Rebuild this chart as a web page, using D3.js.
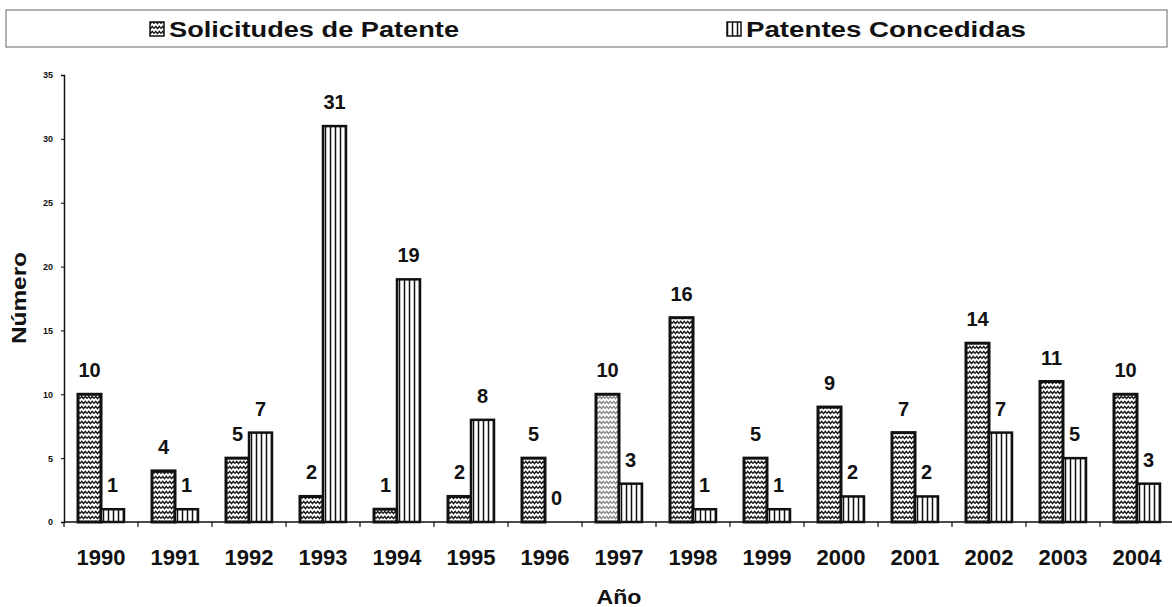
<!DOCTYPE html>
<html>
<head>
<meta charset="utf-8">
<script src="https://cdnjs.cloudflare.com/ajax/libs/d3/7.8.5/d3.min.js"></script>
<style>
  body { margin: 0; background: #fff; }
  svg { font-family: Arial, "Liberation Sans", sans-serif; }
</style>
</head>
<body>
<div id="chart"></div>
<script>
// data
var years = ["1990", "1991", "1992", "1993", "1994", "1995", "1996", "1997",
             "1998", "1999", "2000", "2001", "2002", "2003", "2004"];
var solicitudes = [10, 4, 5, 2, 1, 2, 5, 10, 16, 5, 9, 7, 14, 11, 10];
var concedidas  = [1, 1, 7, 31, 19, 8, 0, 3, 1, 1, 2, 2, 7, 5, 3];
var yTicks = [0, 5, 10, 15, 20, 25, 30, 35];
var seriesNames = ["Solicitudes de Patente", "Patentes Concedidas"];

var width = 1172, height = 607;
var margin = {top: 75, right: 0, bottom: 85, left: 64};

var svg = d3.select("#chart").append("svg")
    .attr("width", width)
    .attr("height", height);

// fill patterns: zigzag for applications, vertical stripes for grants
var defs = svg.append("defs");
function wavePattern(id, color) {
    var p = defs.append("pattern")
        .attr("id", id)
        .attr("patternUnits", "userSpaceOnUse")
        .attr("width", 7).attr("height", 5);
    p.append("rect").attr("width", 7).attr("height", 5).attr("fill", "#fff");
    p.append("path")
        .attr("d", "M0,3.6 L1.75,1.4 L3.5,3.6 L5.25,1.4 L7,3.6")
        .attr("fill", "none")
        .attr("stroke", color)
        .attr("stroke-width", 1.4);
}
wavePattern("wave", "#111");
wavePattern("waveGrey", "#888");

var stripes = defs.append("pattern")
    .attr("id", "stripes")
    .attr("patternUnits", "userSpaceOnUse")
    .attr("width", 5).attr("height", 10);
stripes.append("rect").attr("width", 5).attr("height", 10).attr("fill", "#fff");
stripes.append("line")
    .attr("x1", 2.5).attr("x2", 2.5).attr("y1", 0).attr("y2", 10)
    .attr("stroke", "#111").attr("stroke-width", 1.5);

// legend box
svg.append("rect")
    .attr("x", 6).attr("y", 10)
    .attr("width", 1161).attr("height", 37)
    .attr("fill", "#fff").attr("stroke", "#666").attr("stroke-width", 1);

var legendPos = [{x: 150, fill: "url(#wave)", len: 290}, {x: 727, fill: "url(#stripes)", len: 280}];
legendPos.forEach(function(l, i) {
    svg.append("rect")
        .attr("x", l.x).attr("y", 22)
        .attr("width", 14).attr("height", 14)
        .attr("fill", l.fill)
        .attr("stroke", "#111").attr("stroke-width", 1.5);
    svg.append("text")
        .attr("x", l.x + 19).attr("y", 37)
        .attr("font-size", "22px").attr("font-weight", "bold")
        .attr("textLength", l.len).attr("lengthAdjust", "spacingAndGlyphs")
        .attr("fill", "#111")
        .text(seriesNames[i]);
});

var x = d3.scaleBand()
    .domain(years)
    .range([margin.left, margin.left + 15 * 74]);

var y = d3.scaleLinear()
    .domain([0, 35])
    .range([height - margin.bottom, margin.top]);

var g = svg.append("g");

// y axis
var yAxis = g.append("g")
    .attr("transform", "translate(" + margin.left + ",0)")
    .call(d3.axisLeft(y).tickValues(yTicks).tickSize(3).tickPadding(8));
yAxis.select(".domain").attr("stroke", "#111").attr("stroke-width", 1.5);
yAxis.selectAll("text")
    .attr("font-size", "9px").attr("font-weight", "bold")
    .attr("font-family", "Arial, 'Liberation Sans', sans-serif")
    .attr("fill", "#111");

// x axis
g.append("line")
    .attr("x1", margin.left).attr("x2", width)
    .attr("y1", y(0)).attr("y2", y(0))
    .attr("stroke", "#111").attr("stroke-width", 1.5);

g.selectAll(".xtick")
    .data(years)
    .enter().append("line")
    .attr("class", "xtick")
    .attr("x1", function(d) { return x(d); })
    .attr("x2", function(d) { return x(d); })
    .attr("y1", y(0)).attr("y2", y(0) + 5)
    .attr("stroke", "#111").attr("stroke-width", 1.2);

g.selectAll(".xlabel")
    .data(years)
    .enter().append("text")
    .attr("class", "xlabel")
    .attr("x", function(d) { return x(d) + x.bandwidth() / 2; })
    .attr("y", 565)
    .attr("text-anchor", "middle")
    .attr("font-size", "22px").attr("font-weight", "bold")
    .attr("fill", "#111")
    .text(function(d) { return d; });

// bars
var barW = 23;
var rows = years.map(function(yr, i) {
    return {year: yr, s: solicitudes[i], c: concedidas[i]};
});

var groups = g.selectAll(".yr")
    .data(rows)
    .enter().append("g")
    .attr("class", "yr")
    .attr("transform", function(d) { return "translate(" + (x(d.year) + x.bandwidth() / 2) + ",0)"; });

groups.append("rect")
    .attr("x", -barW)
    .attr("y", function(d) { return y(d.s); })
    .attr("width", barW)
    .attr("height", function(d) { return y(0) - y(d.s); })
    .attr("fill", function(d) { return d.year === "1997" ? "url(#waveGrey)" : "url(#wave)"; })
    .attr("stroke", "#111").attr("stroke-width", 3);

groups.append("rect")
    .attr("x", 0)
    .attr("y", function(d) { return y(d.c); })
    .attr("width", barW)
    .attr("height", function(d) { return y(0) - y(d.c); })
    .attr("fill", "url(#stripes)")
    .attr("stroke", "#111").attr("stroke-width", function(d) { return d.c > 0 ? 2.5 : 0; });

groups.append("text")
    .attr("x", -barW / 2)
    .attr("y", function(d) { return y(d.s) - 17; })
    .attr("text-anchor", "middle")
    .attr("font-size", "20px").attr("font-weight", "bold")
    .attr("fill", "#111")
    .text(function(d) { return d.s; });

groups.append("text")
    .attr("x", barW / 2)
    .attr("y", function(d) { return y(d.c) - 17; })
    .attr("text-anchor", "middle")
    .attr("font-size", "20px").attr("font-weight", "bold")
    .attr("fill", "#111")
    .text(function(d) { return d.c; });

// axis titles
svg.append("text")
    .attr("x", 619).attr("y", 604)
    .attr("text-anchor", "middle")
    .attr("font-size", "20px").attr("font-weight", "bold")
    .attr("textLength", 45).attr("lengthAdjust", "spacingAndGlyphs")
    .attr("fill", "#111")
    .text("Año");

svg.append("text")
    .attr("transform", "translate(26,298) rotate(-90)")
    .attr("text-anchor", "middle")
    .attr("font-size", "20px").attr("font-weight", "bold")
    .attr("textLength", 92).attr("lengthAdjust", "spacingAndGlyphs")
    .attr("fill", "#111")
    .text("Número");
</script>
</body>
</html>
